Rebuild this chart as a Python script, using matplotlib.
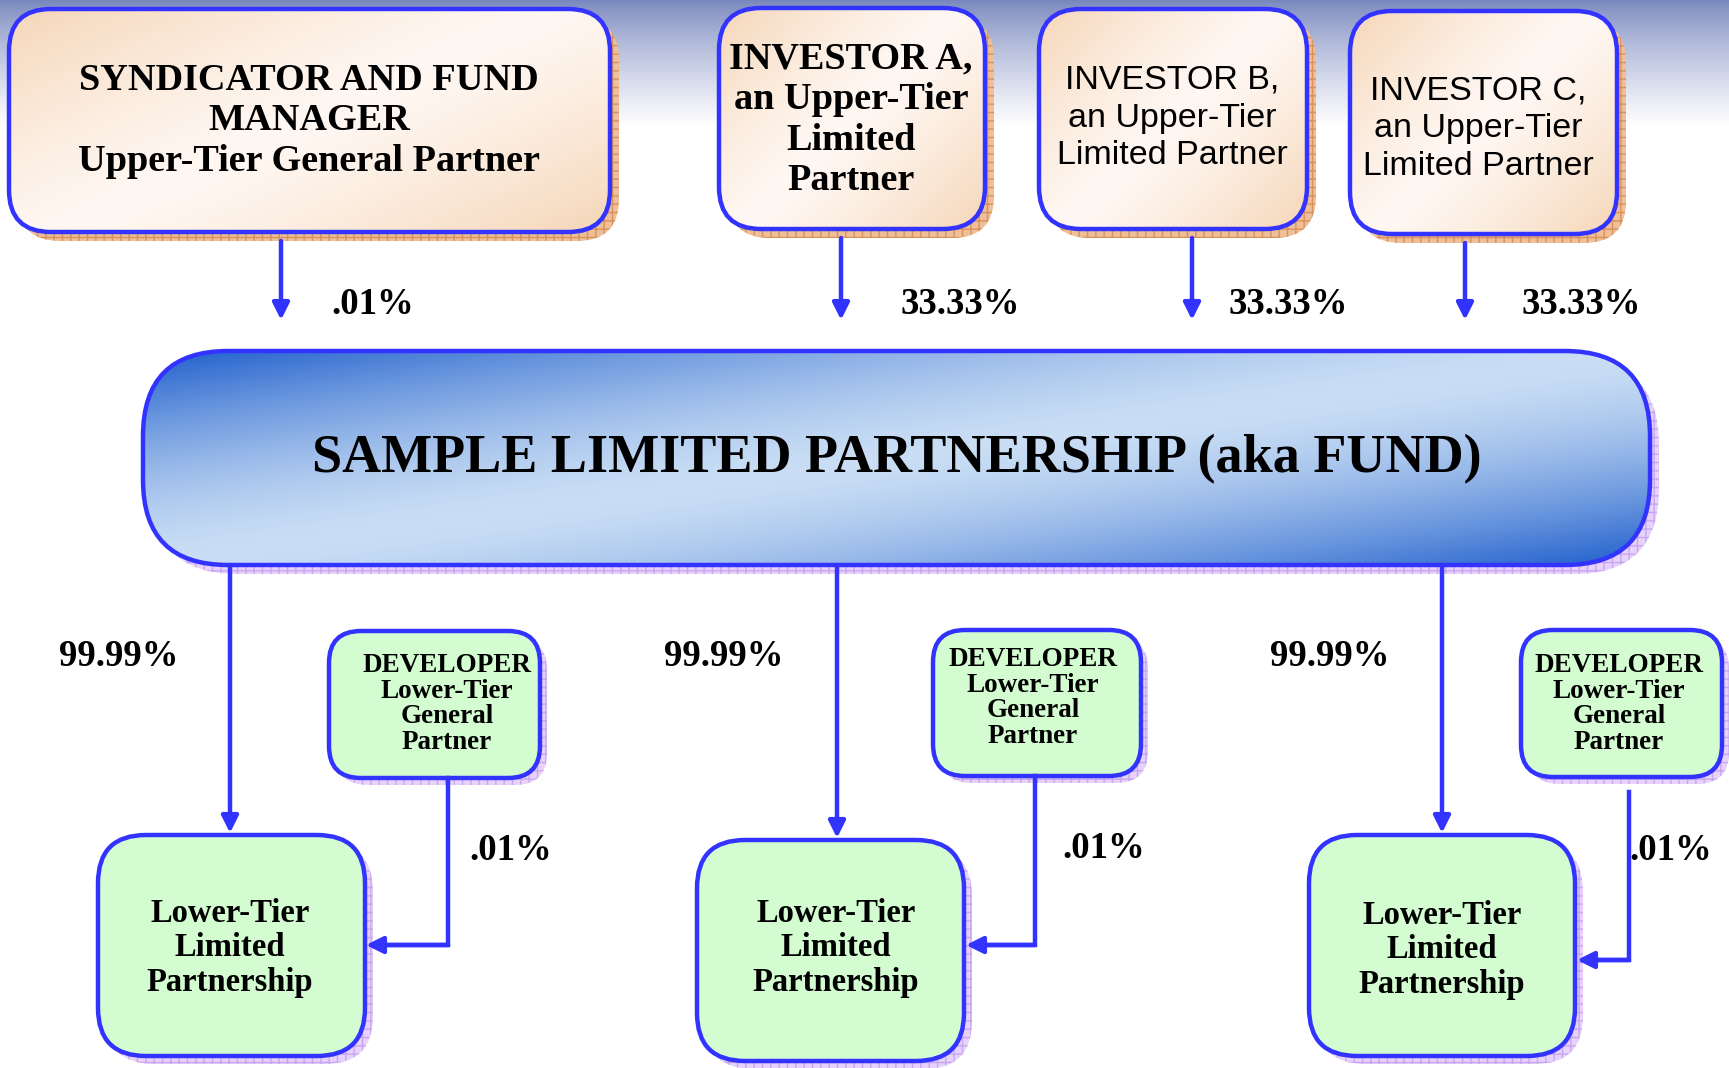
import numpy as np
import matplotlib
matplotlib.use("Agg")
import matplotlib.pyplot as plt
from matplotlib.patches import FancyBboxPatch

# ------------------------------------------------------------
# Diagram content
top_labels = [
    "SYNDICATOR AND FUND\nMANAGER\nUpper-Tier General Partner",
    "INVESTOR A,\nan Upper-Tier\nLimited\nPartner",
    "INVESTOR B,\nan Upper-Tier\nLimited Partner",
    "INVESTOR C,\nan Upper-Tier\nLimited Partner",
]
top_shares = [".01%", "33.33%", "33.33%", "33.33%"]
fund_label = "SAMPLE LIMITED PARTNERSHIP (aka FUND)"
fund_shares = ["99.99%", "99.99%", "99.99%"]
dev_label = "DEVELOPER\nLower-Tier\nGeneral\nPartner"
dev_shares = [".01%", ".01%", ".01%"]
lp_label = "Lower-Tier\nLimited\nPartnership"

# ------------------------------------------------------------
# Layout (pixels, origin top-left)
W, H = 1729, 1068
top_boxes = [(9, 9, 610, 232), (719, 8, 985, 229), (1039, 9, 1307, 229), (1350, 11, 1617, 234)]
top_text_xy = [(309, 121), (851, 120), (1172, 118), (1478, 129)]
top_fonts = ["serif", "serif", "narrow", "narrow"]
top_arrow_x = [281, 841, 1192, 1465]
top_share_xy = [(373, 304), (960, 304), (1288, 304), (1581, 304)]

fund_box = (143, 351, 1650, 565)

down_x = [230, 837, 1442]
fund_share_xy = [(119, 656), (724, 656), (1330, 656)]
dev_boxes = [(329, 631, 540, 778), (933, 630, 1141, 776), (1521, 630, 1722, 777)]
dev_text_xy = [(447, 704), (1033, 698), (1619, 704)]
dev_conn = [(448, 778, 945, 366), (1035, 776, 945, 966), (1629, 792, 960, 1577)]
dev_share_xy = [(511, 850), (1104, 848), (1671, 850)]
lp_boxes = [(98, 835, 365, 1056), (697, 840, 964, 1061), (1309, 835, 1575, 1056)]
lp_text_xy = [(230, 948), (836, 948), (1442, 950)]

BLUE = "#3333ff"
SERIF = ["Liberation Serif", "DejaVu Serif"]
NARROW = ["Liberation Sans Narrow", "Liberation Sans", "DejaVu Sans"]

fig = plt.figure(figsize=(W / 100, H / 100), dpi=100)
ax = fig.add_axes([0, 0, 1, 1])
ax.axis("off")

# background: slate-blue band fading to white
yy = np.linspace(0, 1, H)[:, None] * np.ones((1, 4))
s = np.clip(yy * H / 125, 0, 1) ** 0.8
top_col = np.array([0.47, 0.53, 0.74])
bg = top_col * (1 - s[..., None]) + 1.0 * s[..., None]
ax.imshow(bg, extent=(0, W, H, 0), aspect="auto", zorder=0)


def gradient_box(box, r, colfun, shadow_col, hatch_col, off=9):
    x0, y0, x1, y1 = box
    sh = FancyBboxPatch((x0 + off, y0 + off), x1 - x0, y1 - y0,
                        boxstyle=f"round,pad=0,rounding_size={r}",
                        facecolor=shadow_col, edgecolor=hatch_col, hatch="++",
                        linewidth=0, zorder=1)
    ax.add_patch(sh)
    p = FancyBboxPatch((x0, y0), x1 - x0, y1 - y0,
                       boxstyle=f"round,pad=0,rounding_size={r}",
                       facecolor="none", edgecolor=BLUE, linewidth=3.2, zorder=3)
    ax.add_patch(p)
    gx, gy = np.meshgrid(np.linspace(0, 1, 200), np.linspace(0, 1, 200))
    img = colfun(gx, gy)
    im = ax.imshow(img, extent=(x0, x1, y1, y0), aspect="auto", zorder=2)
    im.set_clip_path(p)


def peach(gx, gy):
    t = 0.55 * gx + 0.45 * gy
    f = np.clip(np.abs(t - 0.5) * 2, 0, 1) ** 1.3
    a = np.array([0.96, 0.84, 0.72])
    b = np.array([1.0, 0.97, 0.95])
    return b * (1 - f[..., None]) + a * f[..., None]


def fund_grad(gx, gy):
    # dark in the top-left and bottom-right corners, light band in between
    t = 0.5 * (gx + gy)
    f = np.clip(np.abs(t - 0.5) * 2, 0, 1) ** 1.5
    dark = np.array([0.12, 0.37, 0.80])
    light = np.array([0.79, 0.87, 0.96])
    return light * (1 - f[..., None]) + dark * f[..., None]


def green(gx, gy):
    c = np.array([0.83, 0.99, 0.82])
    return np.ones(gx.shape)[..., None] * c


def arrow_to(x0, y0, x1, y1):
    ax.annotate("", xy=(x1, y1), xytext=(x0, y0),
                arrowprops=dict(arrowstyle="-|>,head_length=1.0,head_width=0.5",
                                color=BLUE, lw=3.2, shrinkA=0, shrinkB=0),
                zorder=4)


# upper tier
for i, box in enumerate(top_boxes):
    gradient_box(box, 42, peach, "#eebf98", "#d9925a")
    if top_fonts[i] == "serif":
        ax.text(*top_text_xy[i], top_labels[i], ha="center", va="center",
                family=SERIF, weight="bold", fontsize=27.5, linespacing=1.2, zorder=5)
    else:
        ax.text(*top_text_xy[i], top_labels[i], ha="center", va="center",
                family=NARROW, fontsize=24.5, linespacing=1.28, zorder=5)
    arrow_to(top_arrow_x[i], box[3] + 9, top_arrow_x[i], 320)
    ax.text(*top_share_xy[i], top_shares[i], ha="center", va="center",
            family=SERIF, weight="bold", fontsize=26.5, zorder=5)

# fund
gradient_box(fund_box, 85, fund_grad, "#e6d2fa", "#c9a6f0")
ax.text((fund_box[0] + fund_box[2]) / 2, 459, fund_label, ha="center", va="center",
        family=SERIF, weight="bold", fontsize=39, zorder=5)

# lower tier
for i in range(3):
    gradient_box(dev_boxes[i], 32, green, "#e6d2fa", "#c9a6f0", off=7)
    ax.text(*dev_text_xy[i], dev_label, ha="center", va="center",
            family=SERIF, weight="bold", fontsize=19.5, linespacing=1.03, zorder=5)
    gradient_box(lp_boxes[i], 48, green, "#e6d2fa", "#c9a6f0", off=8)
    ax.text(*lp_text_xy[i], lp_label, ha="center", va="center",
            family=SERIF, weight="bold", fontsize=23.5, linespacing=1.16, zorder=5)
    # fund -> lower-tier LP
    arrow_to(down_x[i], fund_box[3], down_x[i], lp_boxes[i][1] - 2)
    ax.text(*fund_share_xy[i], fund_shares[i], ha="center", va="center",
            family=SERIF, weight="bold", fontsize=26.5, zorder=5)
    # developer -> lower-tier LP (elbow)
    cx, cy0, cy1, ex = dev_conn[i]
    ax.plot([cx, cx, ex + 20], [cy0, cy1, cy1], color=BLUE, lw=3.2,
            solid_joinstyle="miter", zorder=4)
    arrow_to(cx, cy1, ex, cy1)
    ax.text(*dev_share_xy[i], dev_shares[i], ha="center", va="center",
            family=SERIF, weight="bold", fontsize=26.5, zorder=5)

ax.set_xlim(0, W)
ax.set_ylim(H, 0)
fig.savefig("out.png", dpi=100)
